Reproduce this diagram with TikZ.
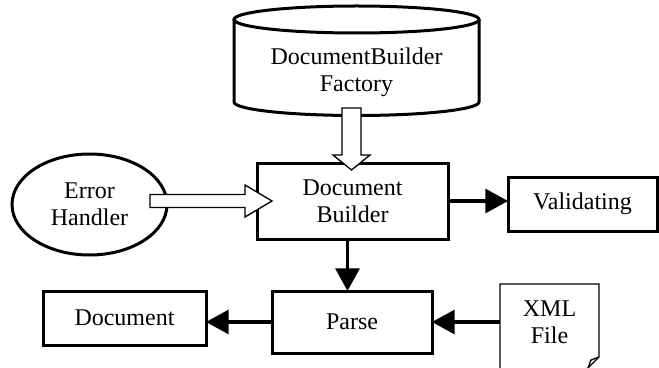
\documentclass[tikz,border=0pt]{standalone}
\usepackage{fontspec}
\setmainfont{Liberation Serif}
\usetikzlibrary{arrows.meta,shapes.geometric}
\tikzset{
  txt/.style={font=\fontsize{18}{20}\selectfont, align=center, inner sep=0pt, outer sep=0pt},
  boxnode/.style={txt, draw=black, line width=2.25pt, rectangle},
  conn/.style={line width=2.3pt, -{Triangle[length=17pt,width=18pt]}},
  hollow/.style={draw=black, fill=white, line width=1pt, line join=miter},
}
\begin{document}
\begin{tikzpicture}[x=0.75pt,y=-0.75pt]
\useasboundingbox (0,0) rectangle (659,367);
% cylinder
\draw[line width=2.25pt] (356.5,19.5) ellipse [x radius=122.5, y radius=13.5];
\draw[line width=2.25pt] (234,19.5) -- (234,102) arc[start angle=180, end angle=0, x radius=122.5, y radius=13.5] -- (479,19.5);
\node[txt] (cyl) at (356.5,72) {DocumentBuilder\\Factory};
% boxes
\node[boxnode, minimum width=143.25pt, minimum height=57pt] (db) at (352.5,201) {Document\\Builder};
\node[boxnode, minimum width=111.75pt, minimum height=40.5pt] (val) at (582.5,204) {Validating};
\node[boxnode, minimum width=120pt, minimum height=46.5pt] (parse) at (352,322) {Parse};
\node[boxnode, minimum width=122.25pt, minimum height=40.5pt] (doc) at (124.5,318) {Document};
\node[txt, ellipse, draw=black, line width=2.25pt, minimum width=116.25pt, minimum height=75.75pt] (eh) at (89.5,204.5) {Error\\Handler};
% XML file
\node[txt, minimum width=74.25pt, minimum height=57pt] (xml) at (549.5,322) {XML\\File};
\draw[line width=1pt, line join=miter] (500,370) -- (500,284) -- (599,284) -- (599,357) -- (588,368);
\draw[line width=1pt, line join=miter] (599,357) -- (591,360) -- (588,368);
% hollow arrows
\draw[hollow] (342,108) -- (361,108) -- (361,155) -- (370,155) -- (351.5,170) -- (333,155) -- (342,155) -- cycle;
\draw[hollow] (150,194.5) -- (245,194.5) -- (245,185) -- (272,201) -- (245,217) -- (245,207.5) -- (150,207.5) -- cycle;
% connectors
\draw[conn] (db.east) -- (db.east -| val.west);
\draw[conn] ([xshift=-3.75pt]db.south) -- ([xshift=-3.75pt]db.south |- parse.north);
\draw[conn] (parse.west) -- (parse.west -| doc.east);
\draw[conn] (xml.west) -- (parse.east);
\end{tikzpicture}
\end{document}
